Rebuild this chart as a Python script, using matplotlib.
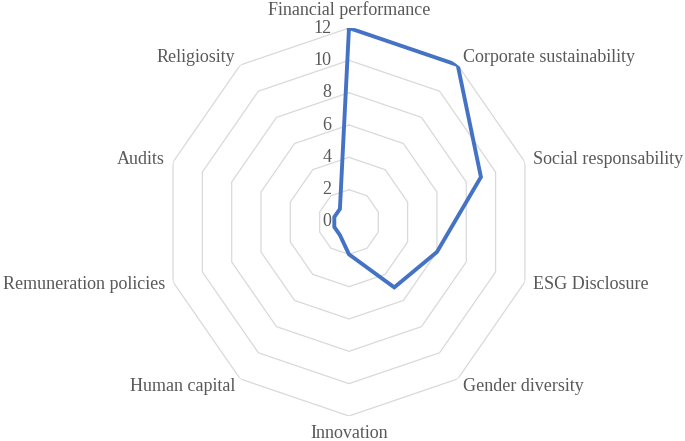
import numpy as np
import matplotlib
matplotlib.use("Agg")
import matplotlib.pyplot as plt

categories = ["Financial performance", "Corporate sustainability", "Social responsability",
              "ESG Disclosure", "Gender diversity", "Innovation", "Human capital",
              "Remuneration policies", "Audits", "Religiosity"]
values = [12, 12, 9, 6, 5, 2, 1, 1, 1, 1]
ring_levels = [0, 2, 4, 6, 8, 10, 12]

plt.rcParams['font.family'] = ['Liberation Serif', 'DejaVu Serif']
txt_color = '#595959'

fig = plt.figure(figsize=(6.85, 4.41), dpi=100)
ax = fig.add_axes([0.2394, 0.0567, 0.5401, 0.8798], projection='polar')
ax.set_aspect('auto')
ax.set_theta_zero_location('N')
ax.set_theta_direction(-1)

n = len(categories)
angles = np.linspace(0, 2 * np.pi, n, endpoint=False)
closed = np.append(angles, angles[0])

# decagon grid
for lv in ring_levels[1:]:
    ax.plot(closed, [lv] * (n + 1), color='#d9d9d9', lw=0.9, zorder=1)

ax.plot(closed, values + values[:1], color='#4472C4', lw=2.8, zorder=3,
        solid_joinstyle='miter')

ax.set_ylim(0, 12)
ax.set_xticks([])
ax.set_yticks([])
ax.grid(False)
ax.spines['polar'].set_visible(False)

for lv in ring_levels:
    ax.annotate(str(lv), (0, lv), xytext=(-12.5, 0), textcoords='offset points',
                ha='right', va='center', fontsize=13, color=txt_color)

for ang, lab in zip(angles, categories):
    s = np.sin(ang)
    c = np.cos(ang)
    if abs(s) < 0.01:
        ha = 'center'
        va = 'bottom' if c > 0 else 'top'
    else:
        ha = 'left' if s > 0 else 'right'
        va = 'center'
    ax.text(ang, 12.55, lab, ha=ha, va=va, fontsize=13, color=txt_color)

fig.savefig('out.png', dpi=100)
